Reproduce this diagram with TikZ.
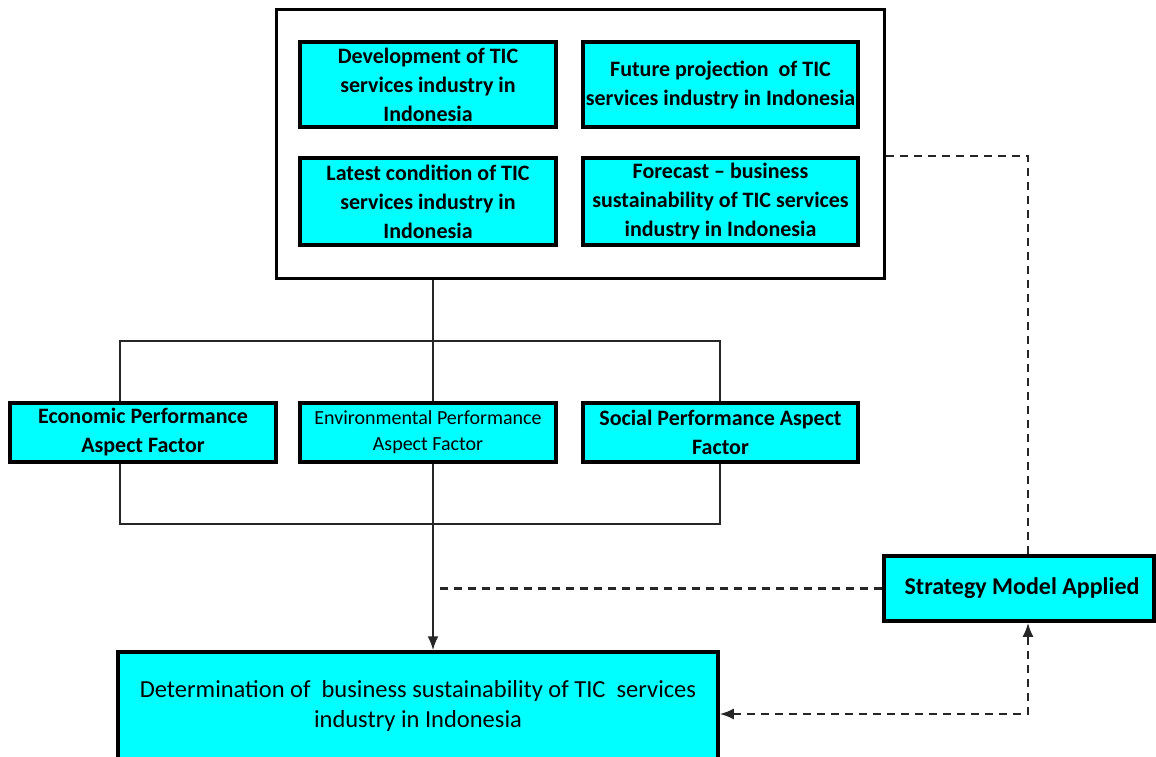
\documentclass[tikz,border=0pt]{standalone}
\usepackage{fontspec}
\setmainfont{Carlito}
\usetikzlibrary{arrows.meta,backgrounds}
\definecolor{boxcyan}{RGB}{0,255,255}
\tikzset{
  cbox/.style={draw=black, line width=3.5pt, fill=boxcyan, rectangle, inner sep=0pt, align=center,
    font=\fontsize{22}{29}\selectfont\bfseries},
  frame/.style={draw=black, line width=3pt, rectangle, inner sep=0pt},
  conn/.style={draw=black!85, line width=2pt},
  dconn/.style={draw=black!85, line width=2.2pt, dash pattern=on 8pt off 6pt},
  tip/.style={-{Latex[length=14pt,width=11pt]}},
}
\begin{document}
\begin{tikzpicture}[x=1pt,y=-1pt]
\useasboundingbox (0,0) rectangle (1156,757);
% outer frame
\node[frame, minimum width=608pt, minimum height=268pt] (big) at (580,144) {};
% top boxes
\node[cbox, minimum width=256pt, minimum height=85pt] (dev) at (428,84.5) {Development of TIC\\services industry in\\Indonesia};
\node[cbox, minimum width=275pt, minimum height=85pt] (fut) at (720.5,84.5) {Future projection\ \ of TIC\\services industry in Indonesia};
\node[cbox, minimum width=256pt, minimum height=87pt] (lat) at (428,201.5) {Latest condition of TIC\\services industry in\\Indonesia};
\node[cbox, minimum width=275pt, minimum height=87pt] (fore) at (720.5,201.5) {Forecast -- business\\sustainability of TIC services\\industry in Indonesia};
% aspect boxes
\node[cbox, minimum width=266pt, minimum height=59pt] (eco) at (143,432.5) {Economic Performance\\Aspect Factor};
\node[cbox, minimum width=256pt, minimum height=59pt, font=\fontsize{20}{26}\selectfont] (env) at (428,432.5) {Environmental Performance\\Aspect Factor};
\node[cbox, minimum width=275pt, minimum height=59pt] (soc) at (720.5,432.5) {Social Performance Aspect\\Factor};
% strategy
\node[cbox, minimum width=270pt, minimum height=65pt, font=\fontsize{24}{30}\selectfont\bfseries] (strat) at (1019,588.5) {\hspace*{6pt}Strategy Model Applied};
% bottom
\node[cbox, minimum width=600pt, minimum height=108pt, font=\fontsize{24.5}{30}\selectfont] (det) at (418,706) {Determination of\ \ business sustainability of TIC\ \ services\\industry in Indonesia};
% helper coordinates
\coordinate (vx) at (433,0);
\coordinate (dx) at (1028,0);
\coordinate (bl) at (120,341);
\coordinate (tr) at (720,524);
\begin{scope}[on background layer]
  \draw[conn] (bl) rectangle (tr);
  \draw[conn, tip] (big.south -| vx) -- (det.north -| vx);
  \draw[dconn] (strat.west) -- (strat.west -| vx);
\end{scope}
\draw[dconn] (big.east |- fore.north) -| (strat.north -| dx);
\draw[dconn, {Latex[length=14pt,width=11pt]}-{Latex[length=14pt,width=11pt]}] (det.east |- 0,714) -| (strat.south -| dx);
\end{tikzpicture}
\end{document}
